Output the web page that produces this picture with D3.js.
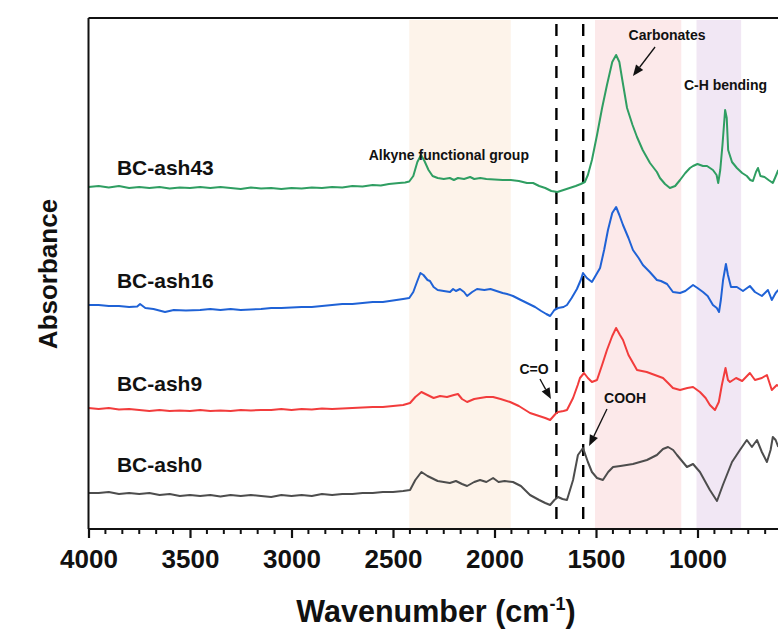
<!DOCTYPE html>
<html>
<head>
<meta charset="utf-8">
<script src="https://cdn.jsdelivr.net/npm/d3@7/dist/d3.min.js"></script>
<style>
  html, body { margin: 0; padding: 0; background: #fff; }
  svg { display: block; font-family: "Liberation Sans", Arial, sans-serif; }
</style>
</head>
<body>
<svg id="chart" width="778" height="630"></svg>
<script>
// FTIR spectra of biochar samples (stacked, offset absorbance, arbitrary units)

const seriesNames = ["BC-ash43", "BC-ash16", "BC-ash9", "BC-ash0"];
const seriesColors = ["#2f9e62", "#1f62d6", "#f23c3c", "#4d4d4d"];

// [wavenumber (cm-1), absorbance (offset, a.u.)]
const ash43 = [
  [4000,68.4],[3950,68.6],[3900,68.3],[3850,68.6],[3800,68.2],[3750,68.4],[3700,68.2],[3650,68.4],
  [3600,68.1],[3550,68.3],[3500,68.2],[3450,68.4],[3400,68.2],[3350,68.4],[3300,68.2],[3250,68.0],
  [3200,68.3],[3150,68.1],[3100,68.2],[3050,68.0],[3000,68.2],[2950,68.1],[2900,68.3],[2850,68.2],
  [2800,68.4],[2750,68.3],[2700,68.6],[2650,68.5],[2600,68.8],[2560,68.7],[2520,69.0],[2470,69.2],
  [2440,69.3],[2420,69.5],[2400,70.6],[2380,73.4],[2362,74.8],[2345,73.6],[2325,71.8],[2305,70.6],
  [2280,70.2],[2250,70.0],[2220,70.2],[2200,69.8],[2180,70.2],[2150,70.0],[2120,70.4],[2100,70.0],
  [2070,70.2],[2040,70.0],[2000,69.9],[1960,69.8],[1920,69.8],[1880,69.6],[1840,69.2],[1810,69.2],
  [1780,68.6],[1750,68.2],[1720,67.6],[1690,67.4],[1660,67.8],[1630,68.2],[1600,68.6],[1575,69.0],
  [1555,69.4],[1540,70.8],[1520,73.8],[1495,78.8],[1470,84.2],[1446,88.8],[1420,93.4],[1401,94.8],
  [1385,93.4],[1372,90.2],[1347,84.2],[1320,80.8],[1298,78.4],[1270,75.8],[1234,73.2],[1200,71.4],
  [1185,70.2],[1160,69.0],[1136,68.2],[1110,68.6],[1086,69.8],[1060,71.2],[1037,72.2],[1022,72.6],
  [1000,73.0],[973,72.6],[953,72.6],[924,71.8],[906,70.8],[898,69.2],[888,71.8],[877,76.8],
  [864,83.8],[856,82.2],[849,75.8],[830,73.4],[806,72.2],[780,71.2],[757,70.6],[740,69.8],
  [727,69.6],[712,71.4],[702,72.2],[690,70.6],[670,70.4],[650,69.8],[629,69.2],[612,70.8],[602,71.8]
];
const ash16 = [
  [4000,44.8],[3950,44.8],[3900,44.6],[3850,44.6],[3800,44.4],[3760,44.5],[3746,45.0],[3720,44.2],
  [3680,44.0],[3623,43.4],[3580,43.8],[3520,43.7],[3450,43.8],[3400,44.0],[3350,43.8],[3300,44.0],
  [3250,43.8],[3200,43.9],[3150,44.0],[3100,44.2],[3050,44.2],[3000,44.3],[2950,44.4],[2900,44.4],
  [2850,44.6],[2800,44.8],[2750,45.0],[2700,45.0],[2650,45.2],[2600,45.4],[2550,45.4],[2500,45.7],
  [2450,46.0],[2420,46.2],[2400,47.4],[2382,49.4],[2365,51.2],[2350,50.8],[2330,49.8],[2318,49.6],
  [2300,48.4],[2280,47.8],[2250,47.6],[2219,47.4],[2204,48.0],[2190,47.6],[2170,48.0],[2150,47.4],
  [2135,46.6],[2110,47.4],[2086,48.0],[2050,47.8],[2020,48.0],[1990,47.6],[1960,47.2],[1938,47.0],
  [1909,46.6],[1870,45.8],[1830,45.0],[1800,44.4],[1770,43.6],[1745,43.0],[1726,42.6],[1705,43.8],
  [1687,44.2],[1660,44.4],[1643,44.8],[1620,46.2],[1594,48.0],[1575,49.8],[1564,51.2],[1545,50.2],
  [1520,49.4],[1500,50.8],[1480,52.2],[1460,55.8],[1441,59.8],[1420,63.2],[1401,64.4],[1385,62.8],
  [1367,60.8],[1340,58.2],[1318,55.8],[1290,54.2],[1269,52.8],[1235,51.4],[1200,49.8],[1180,49.6],
  [1150,49.0],[1121,47.4],[1086,47.2],[1060,47.6],[1022,48.8],[1000,48.2],[973,47.4],[950,46.6],
  [924,44.8],[905,44.2],[894,43.4],[885,45.8],[874,49.8],[860,53.0],[850,50.8],[835,48.4],
  [806,48.4],[776,47.6],[742,48.6],[717,47.4],[683,46.6],[653,47.8],[634,45.8],[615,47.2],[602,47.8]
];
const ash9 = [
  [4000,24.2],[3950,24.0],[3900,24.2],[3850,23.9],[3800,24.0],[3750,23.8],[3700,23.6],[3650,23.8],
  [3600,23.6],[3550,23.7],[3500,23.6],[3450,23.8],[3400,23.6],[3350,23.7],[3300,23.6],[3250,23.8],
  [3200,23.7],[3150,23.8],[3100,23.8],[3050,24.0],[3000,23.8],[2950,24.0],[2900,23.9],[2850,24.1],
  [2800,24.0],[2750,24.1],[2700,24.2],[2650,24.3],[2600,24.4],[2550,24.4],[2500,24.6],[2450,24.8],
  [2416,25.2],[2390,26.4],[2360,27.4],[2330,26.8],[2300,26.2],[2268,26.6],[2234,26.4],[2200,26.8],
  [2180,27.0],[2160,26.0],[2135,25.4],[2100,26.0],[2071,26.2],[2040,26.4],[2007,26.4],[1970,26.0],
  [1923,25.4],[1880,24.6],[1825,23.2],[1780,22.6],[1750,22.2],[1726,21.8],[1700,23.0],[1687,23.4],
  [1660,23.6],[1643,23.8],[1613,26.2],[1590,28.8],[1579,30.2],[1559,31.2],[1540,30.2],[1520,29.4],
  [1495,29.8],[1470,32.8],[1446,35.8],[1420,38.6],[1401,40.2],[1382,38.8],[1367,37.8],[1340,34.8],
  [1298,31.8],[1250,31.4],[1210,30.8],[1170,30.2],[1145,29.2],[1121,28.2],[1086,27.8],[1050,28.2],
  [1022,28.4],[988,27.4],[960,26.2],[939,24.8],[914,23.8],[895,25.4],[880,28.8],[862,32.2],
  [850,29.8],[840,29.4],[810,30.2],[780,29.6],[742,31.2],[717,29.8],[683,30.2],[658,30.8],
  [634,27.8],[609,28.8],[602,28.6]
];
const ash0 = [
  [4000,7.2],[3950,7.2],[3900,7.4],[3850,7.0],[3800,7.2],[3750,7.0],[3700,7.2],[3650,6.8],
  [3600,7.0],[3550,6.6],[3500,6.8],[3450,6.6],[3400,6.8],[3350,6.5],[3300,6.8],[3250,6.6],
  [3200,6.8],[3150,6.6],[3100,6.4],[3050,6.8],[3000,6.6],[2950,6.8],[2900,6.6],[2850,7.0],
  [2800,6.8],[2750,7.0],[2700,7.0],[2650,7.2],[2600,7.2],[2550,7.4],[2500,7.4],[2450,7.6],
  [2416,7.8],[2390,9.8],[2360,11.4],[2330,10.6],[2310,10.2],[2280,9.6],[2250,9.4],[2220,9.2],
  [2190,9.6],[2160,9.0],[2135,8.6],[2100,9.4],[2071,9.8],[2040,9.4],[2007,10.2],[1980,9.4],
  [1950,9.6],[1909,9.4],[1870,8.6],[1825,6.8],[1780,5.8],[1750,5.2],[1726,4.8],[1705,5.8],
  [1687,6.4],[1665,6.0],[1643,5.8],[1613,9.8],[1589,14.8],[1564,16.2],[1540,13.4],[1520,11.4],
  [1495,10.2],[1466,9.8],[1440,11.4],[1416,12.4],[1380,12.6],[1318,13.0],[1249,13.8],[1200,14.8],
  [1170,16.0],[1145,16.4],[1120,15.8],[1101,14.8],[1052,12.4],[1022,13.0],[988,11.4],[939,7.8],
  [904,5.6],[875,8.8],[830,13.4],[791,15.8],[757,17.8],[732,16.4],[707,17.8],[683,15.4],
  [658,13.4],[640,15.8],[629,18.4],[615,17.8],[602,16.4]
];
const seriesData = [ash43, ash16, ash9, ash0];

// label anchor per series: [wavenumber, absorbance]
const labelPos = [[3860, 70.9], [3860, 48.3], [3860, 27.6], [3860, 11.4]];

// shaded assignment regions [from, to] in cm-1
const bands = [[2420, 1920], [1505, 1080], [1005, 785]];
const bandColors = ["#fdf3ea", "#fce9ea", "#f1e7f4"];

// dashed reference lines (cm-1)
const refLines = [1695, 1563];

// annotations: text, text anchor [wn, abs], arrow start, arrow end (null if no arrow)
const annoText = ["Carbonates", "C-H bending", "Alkyne functional group", "C=O", "COOH"];
const annoAt   = [[1150, 97.8], [862, 87.8], [2225, 73.8], [1805, 31.0], [1357, 25.2]];
const annoFrom = [[1209, 96.4], null, null, [1776, 30.0], [1446, 24.0]];
const annoTo   = [[1318, 90.6], null, null, [1722, 26.0], [1534, 16.6]];

const xTicks = [4000, 3500, 3000, 2500, 2000, 1500, 1000];

const svg = d3.select("#chart");
const mLeft = 88.5, mTop = 18, mBottom = 529, mRight = 778.7;

const x = d3.scaleLinear().domain([4000, 600]).range([mLeft, mRight]);
const y = d3.scaleLinear().domain([0, 102.2]).range([mBottom, mTop]);

// shaded regions
svg.append("g").selectAll("rect").data(bands).join("rect")
  .attr("x", d => x(d[0])).attr("width", d => x(d[1]) - x(d[0]))
  .attr("y", mTop + 2).attr("height", mBottom - mTop - 2)
  .attr("fill", (d, i) => bandColors[i]);

// dashed reference lines
svg.append("g").selectAll("line").data(refLines).join("line")
  .attr("x1", d => x(d)).attr("x2", d => x(d))
  .attr("y1", mTop + 6).attr("y2", mBottom - 6)
  .attr("stroke", "#000").attr("stroke-width", 2.4)
  .attr("stroke-dasharray", "12,9");

// spectra
const line = d3.line().x(d => x(d[0])).y(d => y(d[1])).curve(d3.curveLinear);
svg.append("g").selectAll("path").data(seriesData).join("path")
  .attr("d", line).attr("fill", "none")
  .attr("stroke", (d, i) => seriesColors[i]).attr("stroke-width", 2)
  .attr("stroke-linejoin", "round");

// series labels
svg.append("g").selectAll("text").data(seriesNames).join("text")
  .attr("x", (d, i) => x(labelPos[i][0])).attr("y", (d, i) => y(labelPos[i][1]))
  .attr("font-size", 21).attr("font-weight", "bold").attr("fill", "#111")
  .text(d => d);

// annotations
const ag = svg.append("g");
annoText.forEach((t, i) => {
  ag.append("text").attr("x", x(annoAt[i][0])).attr("y", y(annoAt[i][1]))
    .attr("text-anchor", "middle").attr("font-size", 14).attr("font-weight", "bold")
    .attr("fill", "#111").text(t);
  if (annoFrom[i]) {
    const x0 = x(annoFrom[i][0]), y0 = y(annoFrom[i][1]);
    const x1 = x(annoTo[i][0]), y1 = y(annoTo[i][1]);
    const ang = Math.atan2(y1 - y0, x1 - x0);
    const hl = 11, hw = 4.5;
    const bx = x1 - hl * Math.cos(ang), by = y1 - hl * Math.sin(ang);
    ag.append("line").attr("x1", x0).attr("y1", y0).attr("x2", bx).attr("y2", by)
      .attr("stroke", "#111").attr("stroke-width", 1.3);
    const px = -Math.sin(ang) * hw, py = Math.cos(ang) * hw;
    ag.append("polygon")
      .attr("points", [[x1, y1], [bx + px, by + py], [bx - px, by - py]].map(p => p.join(",")).join(" "))
      .attr("fill", "#111");
  }
});

// frame: top and left edges
svg.append("line").attr("x1", mLeft).attr("x2", 778).attr("y1", mTop).attr("y2", mTop)
  .attr("stroke", "#111").attr("stroke-width", 2);
svg.append("line").attr("x1", mLeft).attr("x2", mLeft).attr("y1", mTop).attr("y2", mBottom)
  .attr("stroke", "#111").attr("stroke-width", 2);

// bottom axis with minor ticks
const minor = d3.range(0, 41).map(k => 4000 - k * 500 / 6).filter(v => v >= 600 && !xTicks.includes(Math.round(v)));
const ax = svg.append("g").attr("transform", `translate(0,${mBottom})`);
ax.selectAll("line.minor").data(minor).join("line").attr("class", "minor")
  .attr("x1", d => x(d)).attr("x2", d => x(d)).attr("y1", 0).attr("y2", 5)
  .attr("stroke", "#111").attr("stroke-width", 2);
const axis = d3.axisBottom(x).tickValues(xTicks).tickSize(9).tickPadding(12).tickFormat(d3.format("d"));
ax.call(axis);
ax.select(".domain").attr("stroke", "#111").attr("stroke-width", 2.2).attr("d", `M${mLeft},0H778`);
ax.selectAll(".tick line").attr("stroke", "#111").attr("stroke-width", 2.2);
ax.selectAll(".tick text").attr("font-size", 26).attr("font-weight", "bold").attr("fill", "#111")
  .attr("font-family", "'Liberation Sans', Arial, sans-serif");

// axis titles
const xt = svg.append("text").attr("x", 436).attr("y", 622).attr("text-anchor", "middle")
  .attr("font-size", 30.5).attr("font-weight", "bold").attr("fill", "#111");
xt.append("tspan").text("Wavenumber (cm");
xt.append("tspan").attr("font-size", 18).attr("dy", -12).text("-1");
xt.append("tspan").attr("dy", 12).text(")");

svg.append("text").attr("transform", "translate(57,274) rotate(-90)")
  .attr("text-anchor", "middle").attr("font-size", 26).attr("font-weight", "bold")
  .attr("fill", "#111").text("Absorbance");
</script>
</body>
</html>
